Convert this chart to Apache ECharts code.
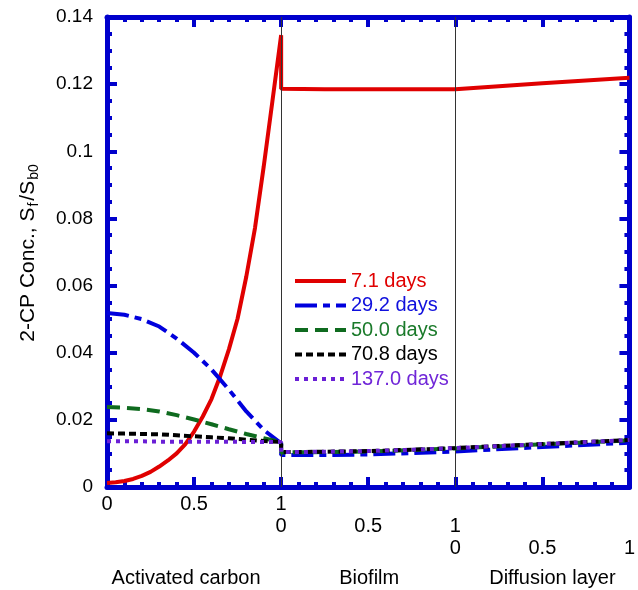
<!DOCTYPE html>
<html>
<head>
<meta charset="utf-8">
<script src="https://cdn.jsdelivr.net/npm/echarts@6/dist/echarts.min.js"></script>
<style>html,body{margin:0;padding:0;background:#fff}#c{width:638px;height:590px}</style>
</head>
<body>
<div id="c"></div>
<script>
// ---- data ----
const seriesNames = ['7.1 days', '29.2 days', '50.0 days', '70.8 days', '137.0 days'];
const layerNames = ['Activated carbon', 'Biofilm', 'Diffusion layer'];
const tickValues = [0, 0.5, 1, 1.5, 2, 2.5, 3];
const tickTexts = ['0', '0.5', '1\n0', '\n0.5', '\n1\n0', '\n\n0.5', '\n\n1'];

// positions inside each layer (0..1)
const acXfine = [0, 0.05, 0.1, 0.15, 0.2, 0.25, 0.3, 0.35, 0.4, 0.45, 0.5, 0.55, 0.6, 0.65, 0.7, 0.75, 0.8, 0.85, 0.9, 0.95, 1.0];
const acX = [0, 0.1, 0.2, 0.3, 0.4, 0.5, 0.6, 0.7, 0.8, 0.9, 1.0];
const bfX = [0, 0.25, 0.5, 0.75, 1.0];
const dlX = [0, 0.5, 1.0];

// 7.1 days (activated carbon sampled on acXfine)
const redAC = [0.0012, 0.0014, 0.0018, 0.0024, 0.0033, 0.0045, 0.0061, 0.0079, 0.0100, 0.0128, 0.0165,
               0.0210, 0.0262, 0.0330, 0.0410, 0.0502, 0.0627, 0.0772, 0.0955, 0.1150, 0.1346];
const redBF = [0.1186, 0.1185, 0.1185, 0.1185, 0.1185];
const redDL = [0.1185, 0.1203, 0.1219];
// 29.2 days
const blueAC = [0.0518, 0.0513, 0.0500, 0.0478, 0.0442, 0.0400, 0.0350, 0.0290, 0.0225, 0.0170, 0.0130];
const blueBF = [0.0095, 0.0095, 0.0097, 0.0101, 0.0106];
const blueDL = [0.0106, 0.0119, 0.0132];
// 50.0 days
const greenAC = [0.0238, 0.0236, 0.0232, 0.0225, 0.0214, 0.0201, 0.0187, 0.0172, 0.0158, 0.0145, 0.0134];
const greenBF = [0.0103, 0.0104, 0.0106, 0.0110, 0.0115];
const greenDL = [0.0115, 0.0127, 0.0139];
// 70.8 days
const blackAC = [0.0160, 0.0159, 0.0158, 0.0157, 0.0154, 0.0151, 0.0148, 0.0145, 0.0141, 0.0137, 0.0134];
const blackBF = [0.0104, 0.0105, 0.0107, 0.0111, 0.0116];
const blackDL = [0.0116, 0.0128, 0.0140];
// 137.0 days
const purpleAC = [0.0136, 0.0136, 0.0136, 0.0135, 0.0135, 0.0135, 0.0135, 0.0135, 0.0134, 0.0134, 0.0134];
const purpleBF = [0.0104, 0.0105, 0.0107, 0.0111, 0.0116];
const purpleDL = [0.0116, 0.0128, 0.0140];

const layerBoundaries = [1, 2];

// ---- build ----
function build(axs, ac, bf, dl) {
  const pts = [];
  axs.forEach((x, i) => pts.push([x, ac[i]]));
  bfX.forEach((x, i) => pts.push([1 + x, bf[i]]));
  dlX.forEach((x, i) => { if (i > 0) pts.push([2 + x, dl[i]]); });
  return pts;
}

const BLUE = '#0000cc';
const FONT = '"Liberation Sans", Arial, sans-serif';
const colors = ['#e00000', '#0000dd', '#0f6b1f', '#000000', '#6a1fd6'];
const textColors = ['#e00000', '#1010dd', '#1a7a2a', '#000000', '#7026d8'];
const dashes = ['solid', [22, 6, 7, 6], [13, 7], [7, 4], [4, 5]];
const dataSets = [
  build(acXfine, redAC, redBF, redDL),
  build(acX, blueAC, blueBF, blueDL),
  build(acX, greenAC, greenBF, greenDL),
  build(acX, blackAC, blackBF, blackDL),
  build(acX, purpleAC, purpleBF, purpleDL)
];

function frameAxisX(pos, showLabel) {
  return {
    type: 'value', min: 0, max: 3, interval: 0.5, position: pos,
    axisLine: { show: true, onZero: false, lineStyle: { color: BLUE, width: 5 } },
    axisTick: { show: true, inside: true, length: 10, lineStyle: { color: BLUE, width: 4 } },
    minorTick: { show: true, splitNumber: 5, length: 5, lineStyle: { color: BLUE, width: 4 } },
    splitLine: { show: false },
    axisLabel: showLabel ? {
      show: true, margin: 6, fontSize: 20, lineHeight: 22, fontFamily: FONT, color: '#000',
      formatter: v => tickTexts[Math.round(v * 2)]
    } : { show: false }
  };
}
function frameAxisY(pos, showLabel) {
  const a = {
    type: 'value', min: 0, max: 0.14, interval: 0.02, position: pos,
    axisLine: { show: true, onZero: false, lineStyle: { color: BLUE, width: 5 } },
    axisTick: { show: true, inside: true, length: 10, lineStyle: { color: BLUE, width: 4 } },
    minorTick: { show: true, splitNumber: 4, length: 5, lineStyle: { color: BLUE, width: 4 } },
    splitLine: { show: false },
    axisLabel: showLabel ? { show: true, margin: 14, fontSize: 19, fontFamily: FONT, color: '#000' } : { show: false }
  };
  if (showLabel) {
    a.name = '2-CP Conc., S{sub|f}/S{sub|b0}';
    a.nameLocation = 'middle';
    a.nameGap = 66;
    a.nameRotate = 90;
    a.nameTextStyle = {
      fontSize: 21, fontFamily: FONT, color: '#000', lineHeight: 26,
      rich: { sub: { fontSize: 14, fontFamily: FONT, color: '#000', lineHeight: 15, verticalAlign: 'bottom', padding: [0, 2, 0, 1] } }
    };
  }
  return a;
}

const series = dataSets.map((d, i) => ({
  name: seriesNames[i], type: 'line', data: d, symbol: 'none', showSymbol: false,
  xAxisIndex: 0, yAxisIndex: 0, z: 3 + i,
  lineStyle: { color: colors[i], width: 4, type: dashes[i] },
  itemStyle: { color: colors[i] },
  emphasis: { disabled: true }
}));
series.unshift({
  name: 'guides', type: 'line', data: [], z: 1, xAxisIndex: 0, yAxisIndex: 0,
  markLine: {
    silent: true, symbol: 'none', label: { show: false },
    lineStyle: { color: '#333', width: 1, type: 'solid' },
    emphasis: { disabled: true },
    data: layerBoundaries.map(v => ({ xAxis: v }))
  }
});

const chart = echarts.init(document.getElementById('c'));
chart.setOption({
  animation: false,
  backgroundColor: '#fff',
  grid: { left: 107, right: 8, top: 17, bottom: 103, containLabel: false },
  xAxis: [
    frameAxisX('bottom', true),
    frameAxisX('top', false),
    {
      type: 'category', data: layerNames, position: 'bottom', offset: 81,
      axisLine: { show: false }, axisTick: { show: false }, splitLine: { show: false },
      axisLabel: {
        interval: 0, margin: 0, fontSize: 20, fontFamily: FONT, color: '#000',
        formatter: (v, i) => ['{a|', '{b|', '{c|'][i] + v + '}',
        rich: {
          a: { fontSize: 20, fontFamily: FONT, color: '#000', padding: [0, 16, 0, 0] },
          b: { fontSize: 20, fontFamily: FONT, color: '#000', padding: [0, 0, 0, 2] },
          c: { fontSize: 20, fontFamily: FONT, color: '#000', padding: [0, 0, 0, 20] }
        }
      }
    }
  ],
  yAxis: [frameAxisY('left', true), frameAxisY('right', false)],
  legend: {
    orient: 'vertical', left: 293, top: 271, padding: 0, itemWidth: 51, itemHeight: 20, itemGap: 4.5,
    selectedMode: false,
    itemStyle: { opacity: 0 },
    lineStyle: { width: 4 },
    textStyle: { fontSize: 20, fontFamily: FONT },
    data: seriesNames.map((n, i) => ({ name: n, textStyle: { color: textColors[i] } }))
  },
  series: series
});
</script>
</body>
</html>
